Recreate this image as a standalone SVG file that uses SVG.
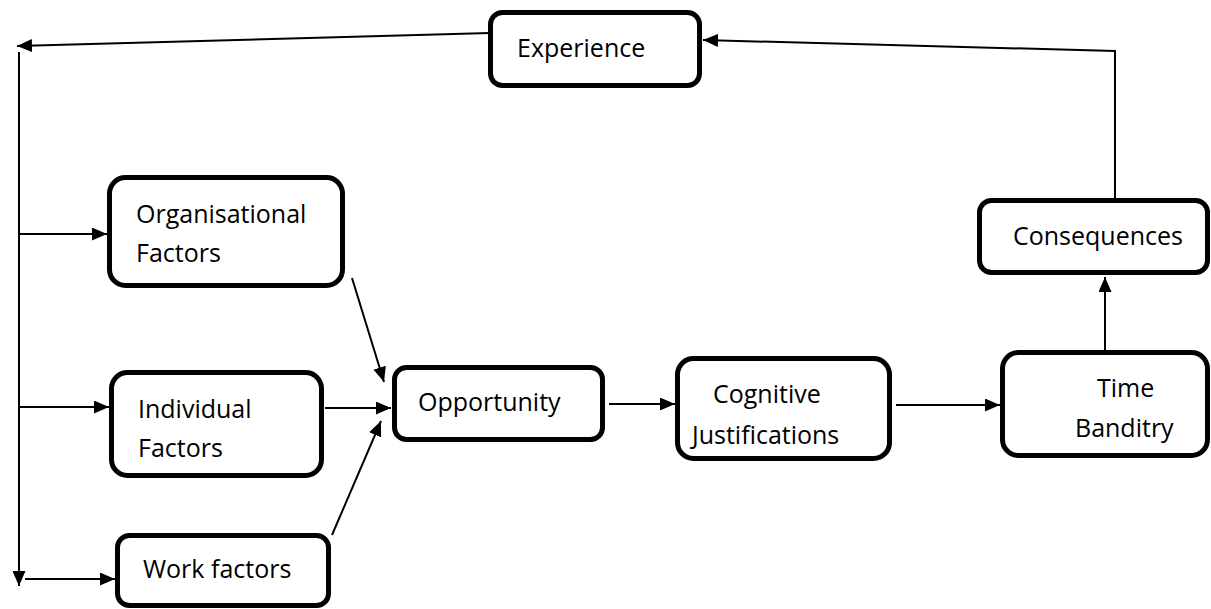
<svg xmlns="http://www.w3.org/2000/svg" width="1211" height="609" viewBox="0 0 1211 609">
<style>
.box{fill:#fff;stroke:#000;stroke-width:5}
.lbl{font-family:"Open Sans","Noto Sans",sans-serif;font-size:25px;fill:#000}
.con{fill:none;stroke:#000;stroke-width:2}
</style>
<defs>
<marker id="ah" markerUnits="userSpaceOnUse" markerWidth="15" markerHeight="13" refX="15" refY="6.5" orient="auto">
<path d="M0,0 L15,6.5 L0,13 z" fill="#000"/>
</marker>
</defs>
<rect width="1211" height="609" fill="#fff"/>
<g id="connectors">
<line class="con" x1="490" y1="33" x2="17" y2="46" marker-end="url(#ah)"/>
<line class="con" x1="19" y1="52" x2="19" y2="586" marker-end="url(#ah)"/>
<line class="con" x1="19" y1="234" x2="107" y2="234" marker-end="url(#ah)"/>
<line class="con" x1="19" y1="407" x2="109" y2="407" marker-end="url(#ah)"/>
<line class="con" x1="25" y1="579" x2="115" y2="579" marker-end="url(#ah)"/>
<line class="con" x1="352" y1="278" x2="384" y2="382" marker-end="url(#ah)"/>
<line class="con" x1="325" y1="408" x2="391" y2="408" marker-end="url(#ah)"/>
<line class="con" x1="332" y1="535" x2="381" y2="421" marker-end="url(#ah)"/>
<line class="con" x1="609" y1="404" x2="675" y2="404" marker-end="url(#ah)"/>
<line class="con" x1="896" y1="405" x2="1000" y2="405" marker-end="url(#ah)"/>
<line class="con" x1="1105" y1="350" x2="1105" y2="277" marker-end="url(#ah)"/>
<polyline class="con" points="1115,198 1115,51 703,40" marker-end="url(#ah)"/>
</g>
<g id="experience">
<rect class="box" x="490.5" y="12.5" width="209" height="73" rx="12"/>
<text class="lbl" x="517" y="57">Experience</text>
</g>
<g id="organisational-factors">
<rect class="box" x="109.5" y="177.5" width="233" height="108" rx="16"/>
<text class="lbl" x="136" y="223">Organisational</text>
<text class="lbl" x="136" y="262">Factors</text>
</g>
<g id="individual-factors">
<rect class="box" x="111.5" y="372.5" width="210" height="103" rx="16"/>
<text class="lbl" x="138" y="418">Individual</text>
<text class="lbl" x="138" y="457">Factors</text>
</g>
<g id="work-factors">
<rect class="box" x="117.5" y="535.5" width="211" height="70" rx="12"/>
<text class="lbl" x="143" y="578">Work factors</text>
</g>
<g id="opportunity">
<rect class="box" x="394.5" y="367.5" width="208" height="72" rx="12"/>
<text class="lbl" x="418" y="411">Opportunity</text>
</g>
<g id="cognitive-justifications">
<rect class="box" x="677.5" y="358.5" width="212" height="100" rx="16"/>
<text class="lbl" x="713" y="403">Cognitive</text>
<text class="lbl" x="692" y="444">Justifications</text>
</g>
<g id="time-banditry">
<rect class="box" x="1002.5" y="352.5" width="205" height="103" rx="16"/>
<text class="lbl" x="1097" y="397">Time</text>
<text class="lbl" x="1075" y="437">Banditry</text>
</g>
<g id="consequences">
<rect class="box" x="979.5" y="200.5" width="228" height="72" rx="12"/>
<text class="lbl" x="1013" y="245">Consequences</text>
</g>
</svg>
